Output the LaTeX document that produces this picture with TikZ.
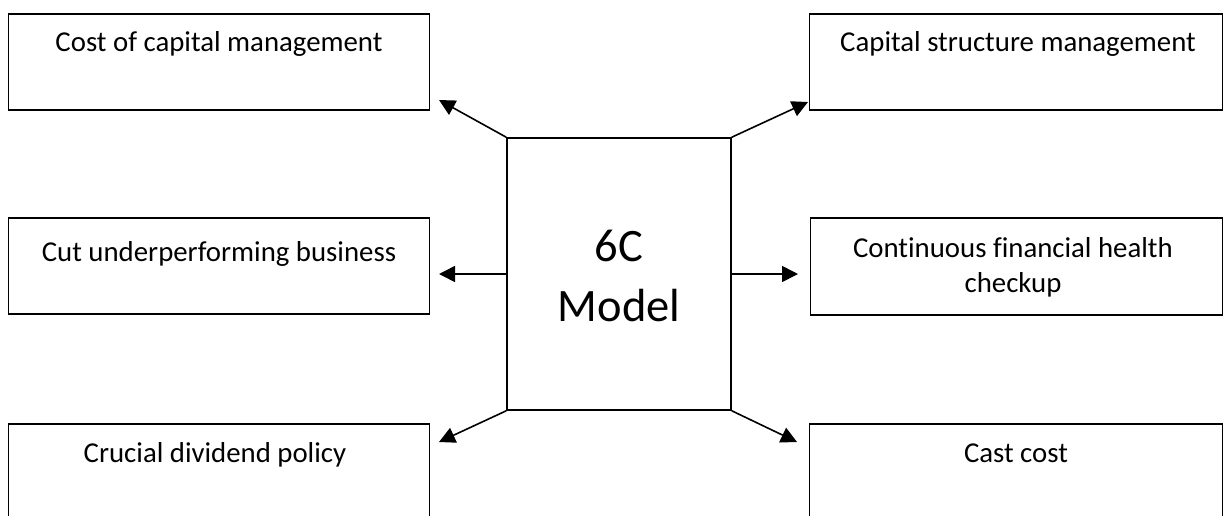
\documentclass[tikz,border=0pt]{standalone}
\usepackage{fontspec}
\setmainfont[Ligatures=NoCommon]{Carlito}
\usetikzlibrary{arrows.meta}
\begin{document}
\begin{tikzpicture}[x=1pt,y=-1pt,
  box/.style={draw=black, line width=1.6pt, rectangle, inner sep=0pt, fill=white},
  lbl/.style={anchor=base, inner sep=0pt, font=\fontsize{28.8}{35}\selectfont, align=center},
  conn/.style={line width=1.6pt, -{Triangle[length=16pt,width=16pt]}}]
\useasboundingbox (0,0) rectangle (1231,515);
\clip (0,0) rectangle (1231,515);
\fill[white] (0,0) rectangle (1231,515);
% boxes
\node[box, minimum width=421pt, minimum height=96pt] (tl) at (219,62) {};
\node[box, minimum width=413pt, minimum height=96pt] (tr) at (1016,62) {};
\node[box, minimum width=421pt, minimum height=96pt] (ml) at (219,266) {};
\node[box, minimum width=412pt, minimum height=97pt] (mr) at (1016.5,266.5) {};
\node[box, minimum width=421pt, minimum height=110pt] (bl) at (219,479) {};
\node[box, minimum width=413pt, minimum height=110pt] (br) at (1016,479) {};
\node[box, minimum width=224pt, minimum height=272pt] (c) at (619,274) {};
% texts
\node[lbl] (ttl) at (219,51.5) {Cost of capital management};
\node[lbl] (ttr) at (1018,51.5) {Capital structure management};
\node[lbl] (tml) at (219,261.5) {Cut underperforming business};
\node[lbl] (tmr) at (1013,292) {Continuous financial health\\checkup};
\node[lbl] (tbl) at (215,462) {Crucial dividend policy};
\node[lbl] (tbr) at (1016,462) {Cast cost};
\node[anchor=base, inner sep=0pt, align=center, font=\fontsize{46.5}{60}\selectfont] (tc) at (619,321) {6C\\Model};
% arrow tips
\coordinate (ptl) at (439,100);
\coordinate (ptr) at (808,102);
\coordinate (pml) at (439,274);
\coordinate (pmr) at (798,274);
\coordinate (pbl) at (439,442);
\coordinate (pbr) at (797,442);
% connectors
\draw[conn] (c.north west) -- (ptl);
\draw[conn] (c.north east) -- (ptr);
\draw[conn] (c.west) -- (pml);
\draw[conn] (c.east) -- (pmr);
\draw[conn] (c.south west) -- (pbl);
\draw[conn] (c.south east) -- (pbr);
\end{tikzpicture}
\end{document}
